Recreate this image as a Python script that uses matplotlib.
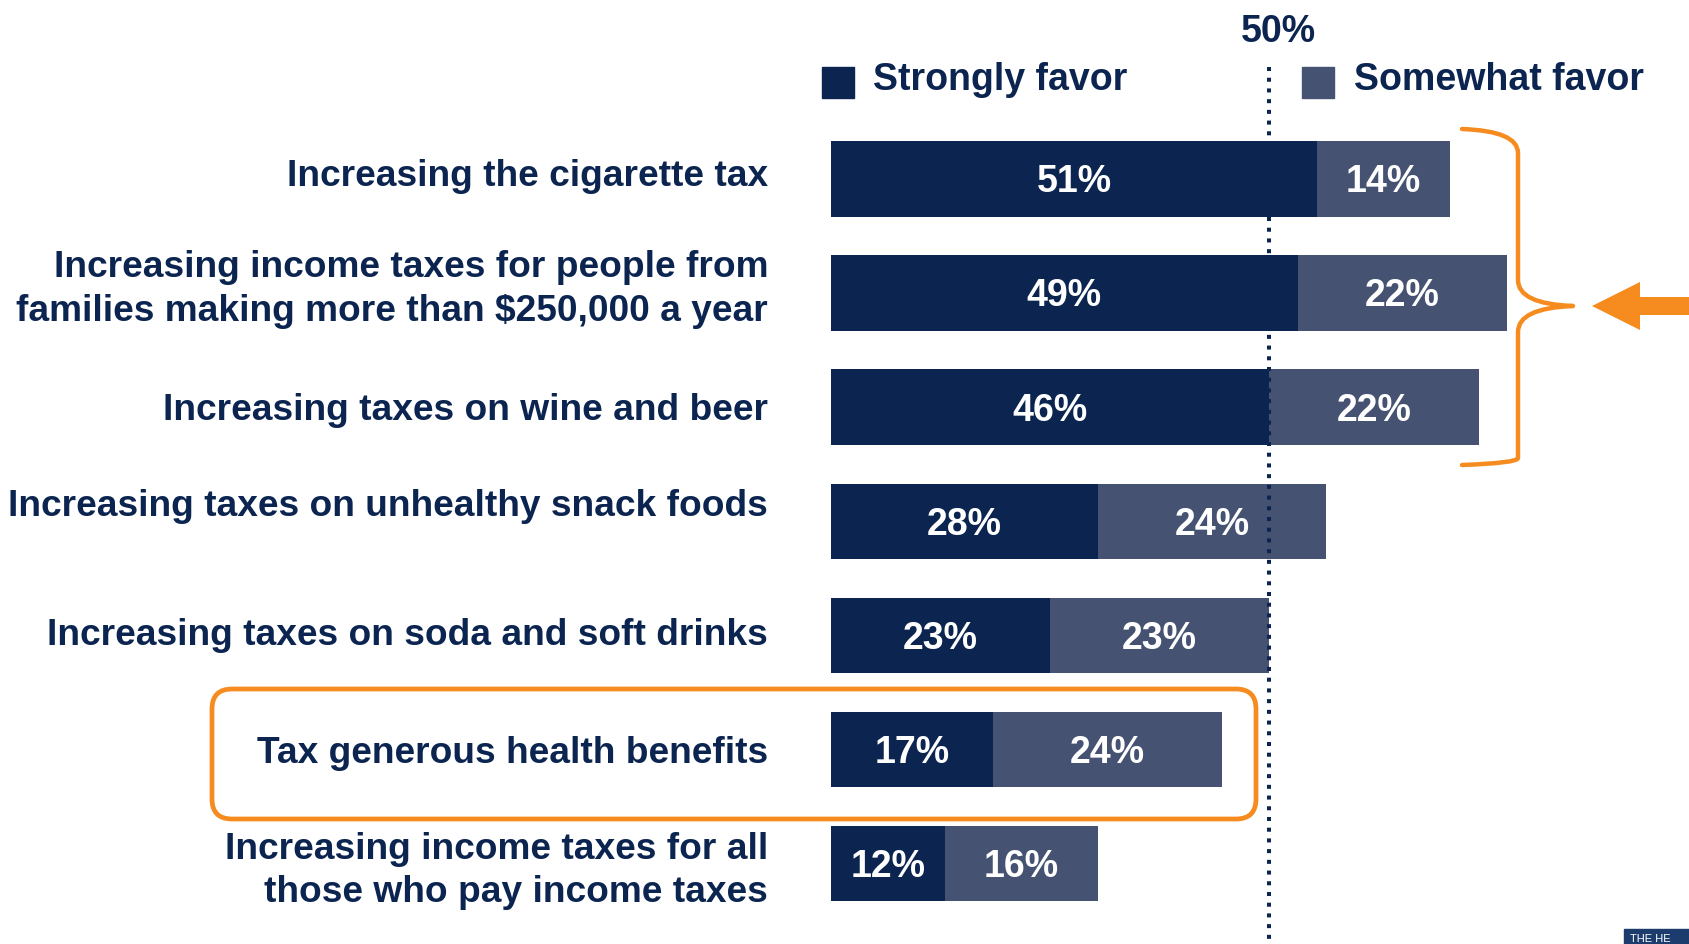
import matplotlib
matplotlib.use("Agg")
import matplotlib.pyplot as plt
from matplotlib.patches import FancyBboxPatch, PathPatch, Polygon, Rectangle
from matplotlib.path import Path

# Dane z wykresu
labels = [
    "Increasing the cigarette tax",
    "Increasing income taxes for people from\nfamilies making more than $250,000 a year",
    "Increasing taxes on wine and beer",
    "Increasing taxes on unhealthy snack foods",
    "Increasing taxes on soda and soft drinks",
    "Tax generous health benefits",
    "Increasing income taxes for all\nthose who pay income taxes",
]
strongly = [51, 49, 46, 28, 23, 17, 12]
somewhat = [14, 22, 22, 24, 23, 24, 16]
series_names = ["Strongly favor", "Somewhat favor"]
ref_label = "50%"

# drobne przesunięcia etykiet wierszy (w jednostkach wiersza), jak w oryginale
label_shift = [-0.02, -0.032, 0.03, -0.13, 0.0, 0.035, 0.065]

navy = "#0B2550"
slate = "#465272"
orange = "#F68B1F"

W, H = 1690, 944
fig = plt.figure(figsize=(W / 100, H / 100), dpi=100)
plt.rcParams["font.family"] = ["Liberation Sans", "DejaVu Sans"]

# osie słupków: 9.53 px na 1%
ax = fig.add_axes([831 / W, 0, 857.5 / W, 1])
ax.set_xlim(0, 90)
ax.set_ylim(6.706, -1.568)
ax.axis("off")

rows = list(range(len(labels)))
ax.barh(rows, strongly, height=0.66, color=navy, zorder=2)
ax.barh(rows, somewhat, left=strongly, height=0.66, color=slate, zorder=2)

for i, (s, m) in enumerate(zip(strongly, somewhat)):
    ax.text(s / 2, i + 0.118, f"{s}%", ha="center", va="baseline", color="white",
            fontsize=27, fontweight="bold", zorder=4)
    ax.text(s + m / 2, i + 0.118, f"{m}%", ha="center", va="baseline", color="white",
            fontsize=27, fontweight="bold", zorder=4)
    ax.text(-6.6, i + label_shift[i], labels[i], ha="right", va="center", color=navy,
            fontsize=26.7, fontweight="bold", linespacing=1.32)

# linia odniesienia
ax.vlines(46, -0.98, 6.706, colors=navy, linestyles=(0, (1, 1.66)),
          linewidth=2.9, zorder=3)

# warstwa adnotacji w pikselach
ov = fig.add_axes([0, 0, 1, 1], zorder=5)
ov.set_xlim(0, W)
ov.set_ylim(H, 0)
ov.axis("off")

ov.text(1278, 32, ref_label, ha="center", va="center", color=navy,
        fontsize=27, fontweight="bold")
ov.add_patch(Rectangle((822, 67), 32, 31, color=navy))
ov.add_patch(Rectangle((1302, 67), 32, 31, color=slate))
ov.text(873, 80, series_names[0], ha="left", va="center", color=navy,
        fontsize=27, fontweight="bold")
ov.text(1354, 80, series_names[1], ha="left", va="center", color=navy,
        fontsize=27, fontweight="bold")

# ramka wokół "Tax generous health benefits"
ov.add_patch(FancyBboxPatch((212, 689), 1044, 130,
                            boxstyle="round,pad=0,rounding_size=20",
                            fill=False, edgecolor=orange, linewidth=3.4))

# klamra
verts = [(1462, 129), (1518, 131), (1518, 153), (1518, 170),
         (1518, 280), (1518, 304), (1573, 306),
         (1518, 308), (1518, 332), (1518, 440),
         (1518, 458), (1518, 463), (1462, 465)]
codes = [Path.MOVETO, Path.CURVE3, Path.CURVE3, Path.LINETO,
         Path.LINETO, Path.CURVE3, Path.CURVE3,
         Path.CURVE3, Path.CURVE3, Path.LINETO,
         Path.LINETO, Path.CURVE3, Path.CURVE3]
ov.add_patch(PathPatch(Path(verts, codes), fill=False, edgecolor=orange,
                       linewidth=3.2, capstyle="round", joinstyle="round"))

# strzałka
ov.add_patch(Polygon([(1592, 306), (1640, 282), (1640, 297), (1690, 297),
                      (1690, 315), (1640, 315), (1640, 330)],
                     closed=True, color=orange, linewidth=0))

# fragment logo w rogu
ov.add_patch(Rectangle((1624, 929), 70, 20, color="#1C3C6E"))
ov.text(1630, 939, "THE HE", color="white", fontsize=8,
        ha="left", va="center")

fig.savefig("out.png", dpi=100)
